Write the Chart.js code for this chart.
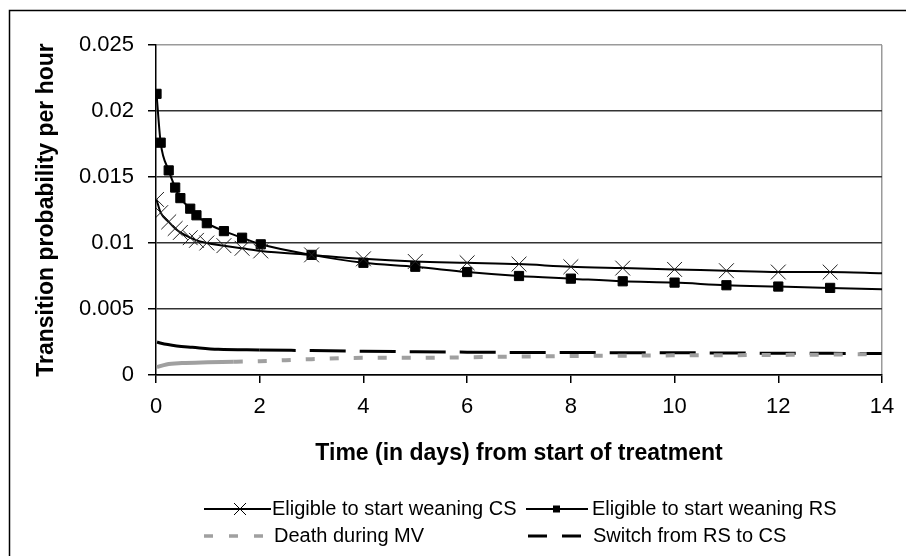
<!DOCTYPE html>
<html><head><meta charset="utf-8">
<script src="https://cdn.jsdelivr.net/npm/chart.js@4/dist/chart.umd.min.js"></script>
<style>html,body{margin:0;padding:0;background:#fff}canvas{display:block}</style>
</head><body>
<canvas id="c" width="906" height="556"></canvas>
<script>
// ---- data ----
const seriesNames = ['Eligible to start weaning CS', 'Eligible to start weaning RS', 'Death during MV', 'Switch from RS to CS'];
const weanX  = [0.01, 0.09, 0.245, 0.37, 0.47, 0.66, 0.78, 0.98, 1.31, 1.66, 2.02, 3, 4, 5, 6, 7, 8, 9, 10, 11, 12, 13, 14];
const csY    = [0.0133, 0.0123, 0.0116, 0.0111, 0.0108, 0.0104, 0.0102, 0.0100, 0.0098, 0.0096, 0.0094, 0.0091, 0.0088, 0.0086, 0.0085, 0.0084, 0.0082, 0.0081, 0.0080, 0.0079, 0.0078, 0.0078, 0.0077];
const rsY    = [0.0213, 0.0176, 0.0155, 0.0142, 0.0134, 0.0126, 0.0121, 0.0115, 0.0109, 0.0104, 0.0099, 0.0091, 0.0085, 0.0082, 0.0078, 0.0075, 0.0073, 0.0071, 0.0070, 0.0068, 0.0067, 0.0066, 0.0065];
const deathX = [0.02, 0.2, 0.5, 1.0, 1.5, 2, 3, 4, 5, 6, 7, 8, 9, 10, 11, 12, 13, 14];
const deathY = [0.0006, 0.0008, 0.0009, 0.00096, 0.0010, 0.00105, 0.0012, 0.0013, 0.0013, 0.00134, 0.0014, 0.00144, 0.00146, 0.00149, 0.0015, 0.00152, 0.00155, 0.00158];
const switchX = [0.02, 0.1, 0.4, 0.7, 1.2, 2, 3, 4, 5, 6, 7, 8, 9, 10, 11, 12, 13, 14];
const switchY = [0.0025, 0.0024, 0.0022, 0.0021, 0.00195, 0.0019, 0.00185, 0.0018, 0.00176, 0.00173, 0.00171, 0.0017, 0.00169, 0.00168, 0.00167, 0.00165, 0.00164, 0.00163];
const xTickValues = [0, 2, 4, 6, 8, 10, 12, 14];
const xTickLabels = ['0', '2', '4', '6', '8', '10', '12', '14'];
const yTickValues = [0, 0.005, 0.01, 0.015, 0.02, 0.025];
const yTickLabels = ['0', '0.005', '0.01', '0.015', '0.02', '0.025'];
const xTitle = 'Time (in days) from start of treatment';
const yTitle = 'Transition probability per hour';

const pts = (xs, ys) => xs.map((x, i) => ({x: x, y: ys[i]}));
const FONT = "'Liberation Sans', Arial, sans-serif";
const lookup = (vals, labels, v) => { const i = vals.findIndex(t => Math.abs(t - v) < 1e-9); return i < 0 ? '' : labels[i]; };
const lastIdx = ctx => ctx.dataIndex === ctx.dataset.data.length - 1;

const frame = {
  id: 'frame',
  beforeDraw(chart) {
    const c = chart.ctx;
    c.save();
    c.fillStyle = '#fff';
    c.fillRect(0, 0, chart.width, chart.height);
    c.strokeStyle = '#000';
    c.lineWidth = 1.5;
    c.beginPath();
    c.moveTo(9.5, chart.height);
    c.lineTo(9.5, 10.5);
    c.lineTo(chart.width, 10.5);
    c.stroke();
    c.restore();
  }
};

const legendPlugin = {
  id: 'customLegend',
  afterDraw(chart) {
    const c = chart.ctx;
    const ds = chart.data.datasets;
    c.save();
    c.font = '20px ' + FONT;
    c.fillStyle = '#000';
    c.textBaseline = 'middle';
    c.textAlign = 'left';
    const r1 = 509, r2 = 536;
    // CS
    c.strokeStyle = '#000'; c.lineWidth = 2; c.setLineDash([]);
    c.beginPath(); c.moveTo(204, r1); c.lineTo(271, r1); c.stroke();
    c.lineWidth = 1;
    c.beginPath(); c.moveTo(234, r1 - 6); c.lineTo(246, r1 + 6); c.moveTo(246, r1 - 6); c.lineTo(234, r1 + 6); c.stroke();
    c.fillText(ds[0].label, 272, r1);
    // RS
    c.lineWidth = 2;
    c.beginPath(); c.moveTo(526, r1); c.lineTo(588, r1); c.stroke();
    c.fillRect(553, r1 - 3.5, 7, 7);
    c.fillText(ds[1].label, 592, r1);
    // Death
    c.strokeStyle = '#a0a0a0'; c.lineWidth = 3.5; c.setLineDash([9, 16]);
    c.beginPath(); c.moveTo(204, r2); c.lineTo(264, r2); c.stroke();
    c.fillText(ds[2].label, 274, r2);
    // Switch
    c.strokeStyle = '#000'; c.lineWidth = 3; c.setLineDash([19, 15]);
    c.beginPath(); c.moveTo(528, r2); c.lineTo(582, r2); c.stroke();
    c.setLineDash([]);
    c.fillText(ds[3].label, 593, r2);
    c.restore();
  }
};

new Chart(document.getElementById('c'), {
  type: 'line',
  data: {
    datasets: [
      {
        label: seriesNames[0], data: pts(weanX, csY),
        borderColor: '#000', borderWidth: 2, cubicInterpolationMode: 'monotone',
        pointStyle: 'crossRot', pointRadius: ctx => lastIdx(ctx) ? 0 : 10.5,
        pointBorderColor: '#222', pointBorderWidth: 1, pointBackgroundColor: '#000'
      },
      {
        label: seriesNames[1], data: pts(weanX, rsY),
        borderColor: '#000', borderWidth: 2, cubicInterpolationMode: 'monotone',
        pointStyle: 'rect', pointRadius: ctx => lastIdx(ctx) ? 0 : 6.5,
        pointBorderColor: '#000', pointBorderWidth: 1, pointBackgroundColor: '#000'
      },
      {
        label: seriesNames[2], data: pts(deathX, deathY),
        borderColor: '#a0a0a0', borderWidth: 4, pointRadius: 0, cubicInterpolationMode: 'monotone',
        segment: { borderDash: ctx => ctx.p0.parsed.x < 1.2 ? [] : [9, 15] }
      },
      {
        label: seriesNames[3], data: pts(switchX, switchY),
        borderColor: '#000', borderWidth: 3, pointRadius: 0, cubicInterpolationMode: 'monotone',
        segment: { borderDash: ctx => ctx.p0.parsed.x < 2 ? [] : [36, 14] }
      }
    ]
  },
  options: {
    responsive: false,
    animation: false,
    devicePixelRatio: 1,
    layout: { padding: { left: 10, right: 24, top: 45, bottom: 81 } },
    plugins: { legend: { display: false }, tooltip: { enabled: false } },
    scales: {
      x: {
        type: 'linear', min: 0, max: 14,
        ticks: { stepSize: 2, color: '#000', font: { family: FONT, size: 22 }, padding: 11,
                 callback: v => lookup(xTickValues, xTickLabels, v) },
        grid: { color: ctx => (ctx.tick && ctx.tick.value === 14) ? '#9a9a9a' : 'rgba(0,0,0,0)',
                lineWidth: 1.5, tickColor: '#000', tickLength: 8 },
        border: { color: '#000', width: 1.5 },
        title: { display: true, text: xTitle, color: '#000', font: { family: FONT, size: 23, weight: 'bold' },
                 padding: { top: 0, bottom: 8 } },
        afterFit: s => { s.height = 100; }
      },
      y: {
        min: 0, max: 0.025,
        ticks: { stepSize: 0.005, color: '#000', font: { family: FONT, size: 22 }, padding: 14,
                 callback: v => lookup(yTickValues, yTickLabels, v) },
        grid: { color: ctx => (ctx.tick && Math.abs(ctx.tick.value - 0.025) < 1e-9) ? '#9a9a9a' : '#333',
                lineWidth: 1.5, tickColor: '#000', tickLength: 8 },
        border: { color: '#000', width: 1.5 },
        title: { display: true, text: yTitle, color: '#000', font: { family: FONT, size: 23, weight: 'bold' },
                 padding: { top: 23, bottom: 0 } },
        afterFit: s => { s.width = 146; }
      }
    }
  },
  plugins: [frame, legendPlugin]
});
</script>
</body></html>
